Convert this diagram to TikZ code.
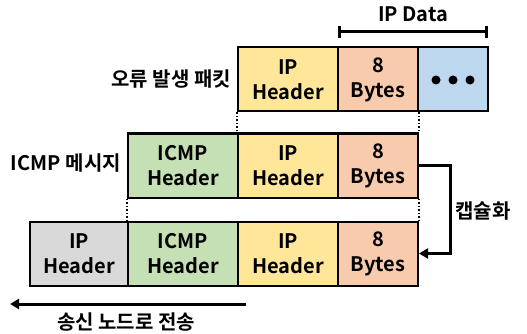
\documentclass[tikz,border=0pt]{standalone}
\usepackage{fontspec}
\setmainfont{Noto Sans CJK KR Bold}
\usetikzlibrary{arrows.meta}
\definecolor{hdrYellow}{HTML}{FFE699}
\definecolor{byteOrange}{HTML}{F8CBAD}
\definecolor{dataBlue}{HTML}{BDD7EE}
\definecolor{icmpGreen}{HTML}{C5E0B4}
\definecolor{ipGray}{HTML}{D9D9D9}
\tikzset{
  field/.style={draw=black, line width=2pt, inner sep=0pt, minimum height=64pt,
    align=center, font=\fontsize{20}{25}\selectfont},
  txt/.style={font=\fontsize{20}{22}\selectfont, inner sep=0pt},
  rowlabel/.style={txt, anchor=east},
  guide/.style={dotted, line width=1.5pt},
  heavy/.style={line width=3pt},
}
\begin{document}
\begin{tikzpicture}[x=1pt,y=-1pt]
\useasboundingbox (0,0) rectangle (527,334);

% faulty packet
\node[field, fill=hdrYellow, minimum width=100pt] (p1ip) at (288,79.5) {IP\\Header};
\node[field, fill=byteOrange, minimum width=80pt] (p1b) at (378,79.5) {8\\Bytes};
\node[field, fill=dataBlue, minimum width=70pt] (p1d) at (453,79.5) {};
\foreach \dx in {-17,0,17} \fill (453+\dx,80) circle (4.5pt);
\node[rowlabel] (l1) at (231,79.5) {오류 발생 패킷};

% IP data bracket
\coordinate (bl) at (338,32);
\coordinate (br) at (488,32);
\draw[heavy, {Bar[width=12pt]}-{Bar[width=12pt]}] (bl) -- (br);
\node[txt] (ipdata) at (413,14) {IP Data};

% ICMP message
\node[field, fill=icmpGreen, minimum width=110pt] (p2icmp) at (183,165.5) {ICMP\\Header};
\node[field, fill=hdrYellow, minimum width=100pt] (p2ip) at (288,165.5) {IP\\Header};
\node[field, fill=byteOrange, minimum width=80pt] (p2b) at (378,165.5) {8\\Bytes};
\node[rowlabel] (l2) at (121,163) {ICMP 메시지};

% encapsulated packet
\node[field, fill=ipGray, minimum width=98pt] (p3hdr) at (79,253.5) {IP\\Header};
\node[field, fill=icmpGreen, minimum width=110pt] (p3icmp) at (183,253.5) {ICMP\\Header};
\node[field, fill=hdrYellow, minimum width=100pt] (p3ip) at (288,253.5) {IP\\Header};
\node[field, fill=byteOrange, minimum width=80pt] (p3b) at (378,253.5) {8\\Bytes};

% dotted guides between rows
\draw[guide] (p1ip.south west) -- (p2ip.north west);
\draw[guide] (p1b.south east) -- (p2b.north east);
\draw[guide] (p2icmp.south west) -- (p3icmp.north west);
\draw[guide] (p2b.south east) -- (p3b.north east);

% encapsulation arrow
\draw[heavy, -{Triangle[length=9pt,width=10pt]}] (p2b.east) -- (450,165.5) -- (450,253.5) -- (p3b.east);
\node[txt] (encap) at (483,211) {캡슐화};

% send direction
\coordinate (s0) at (246,304);
\coordinate (s1) at (10,304);
\draw[heavy, -{Triangle[length=9pt,width=10pt]}] (s0) -- (s1);
\node[txt] (send) at (126,322) {송신 노드로 전송};
\end{tikzpicture}
\end{document}
